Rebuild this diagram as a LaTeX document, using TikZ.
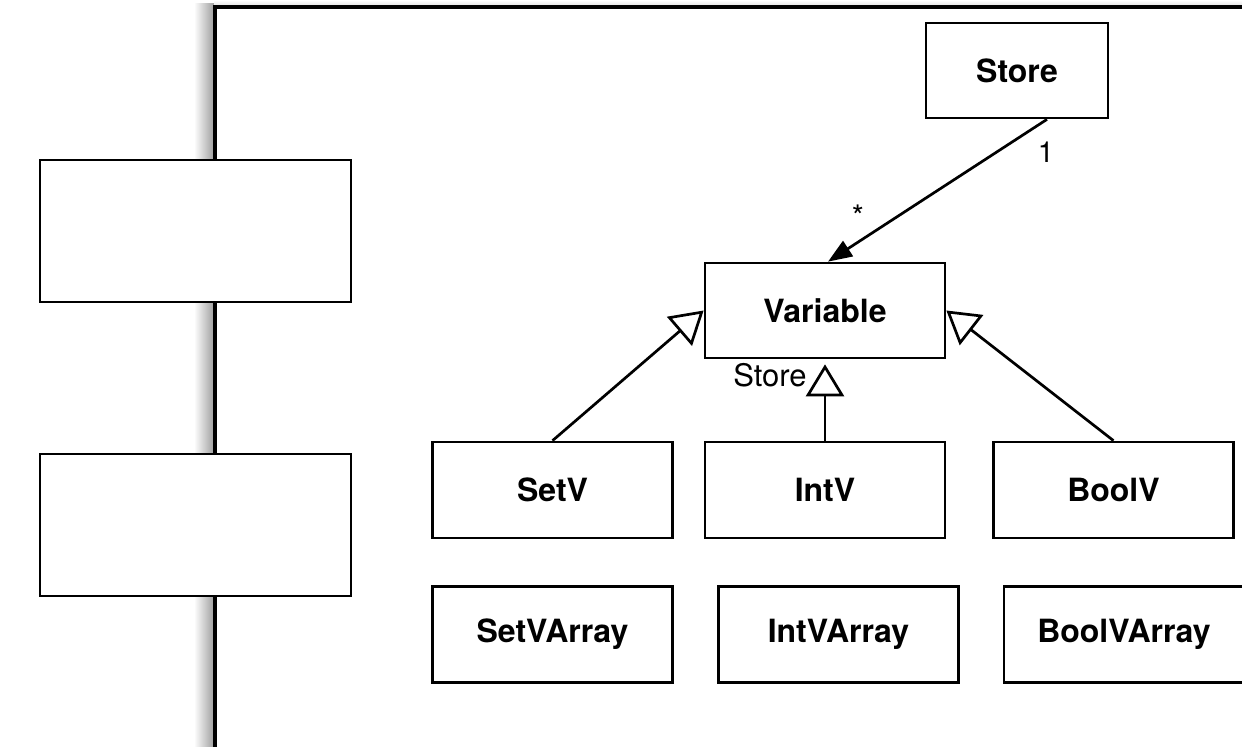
\documentclass[tikz,border=0pt]{standalone}
\usepackage{fontspec}
\setmainfont{TeX Gyre Heros}
\usetikzlibrary{arrows.meta,calc}
\begin{document}
\begin{tikzpicture}[x=0.5pt,y=-0.5pt,
  box/.style={draw, line width=1.35pt, fill=white, minimum width=120pt, minimum height=48pt, inner sep=0pt, font=\fontsize{16}{19}\selectfont\bfseries},
  sidebox/.style={draw, line width=1.35pt, fill=white, minimum width=155.5pt, minimum height=71pt, inner sep=0pt},
  gen/.style={line width=1.35pt, -{Triangle[open, length=16pt, width=19pt, fill=white]}},
  assoc/.style={line width=1.35pt, -{Triangle[length=12pt, width=9pt]}},
  lbl/.style={font=\fontsize{14.5}{17}\selectfont, inner sep=0pt}
]
\useasboundingbox (0,0) rectangle (1242,747);
\clip (0,0) rectangle (1242,747);
\fill[white] (0,0) rectangle (1242,747);
% frame shadow
\shade[left color=white, right color=black!38] (194,4) rectangle (214,760);
\shade[top color=white, bottom color=black!12] (214,0) rectangle (1260,6);
% frame
\draw[line width=1.6pt] (215,760) -- (215,7) -- (1260,7);
% left boxes
\node[sidebox] (left1) at (195.5,231) {};
\node[sidebox] (left2) at (195.5,525) {};
% classes
\node[box, minimum width=91pt, minimum height=47.5pt] (Store) at (1017,70.5) {Store};
\node[box, minimum height=47.5pt] (Variable) at (825,310.5) {Variable};
\node[box] (SetV) at (552.5,490) {SetV};
\node[box] (IntV) at (825,490) {IntV};
\node[box] (BoolV) at (1113.5,490) {BoolV};
\node[box] (SetVArray) at (552.5,634.5) {SetVArray};
\node[box] (IntVArray) at (838.5,634.5) {IntVArray};
\node[box] (BoolVArray) at (1124,634.5) {BoolVArray};
% connectors
\draw[assoc] ([xshift=15pt]Store.south) -- ([xshift=1.5pt]Variable.north);
\draw[gen] (SetV.north) -- (Variable.west);
\draw[gen] (BoolV.north) -- (Variable.east);
\draw[gen, shorten >=2.5pt] (IntV.north) -- (Variable.south);
% labels
\node[lbl, anchor=base] (one) at (1046,163) {1};
\node[lbl, font=\fontsize{15.5}{18}\selectfont, anchor=base] (many) at (858,228) {*};
\node[lbl, font=\fontsize{15.5}{18}\selectfont, anchor=base east] (storelbl) at (807,387) {Store};
\end{tikzpicture}
\end{document}
